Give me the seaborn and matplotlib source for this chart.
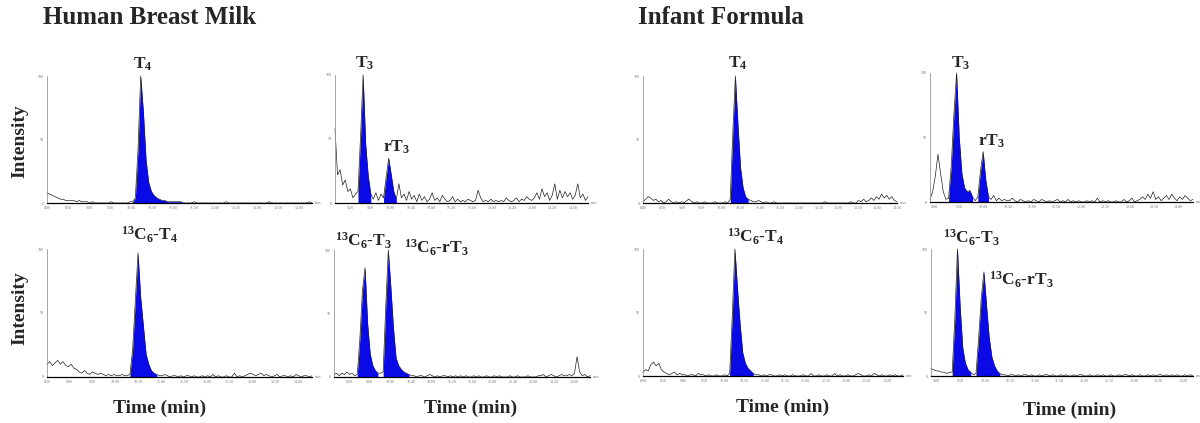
import numpy as np
import pandas as pd
import matplotlib
matplotlib.use('Agg')
import matplotlib.pyplot as plt
from matplotlib.ticker import MaxNLocator, FormatStrFormatter
import seaborn as sns

# 1. 크로마토그램 데이터 (상대강도 %, 균일 샘플링)
hbm_t4 = [8, 7, 6, 5, 4, 3, 3, 2, 2, 2,
          2, 1, 2, 1, 1, 1, 0, 1, 0, 0,
          0, 0, 0, 0, 1, 0, 0, 0, 0, 0,
          0, 1, 1, 4, 42, 100, 72, 34, 16, 9,
          6, 4, 3, 2, 2, 1, 1, 1, 1, 1,
          1, 0, 0, 0, 0, 1, 0, 0, 0, 0,
          0, 0, 0, 0, 0, 0, 0, 1, 0, 0,
          0, 0, 0, 0, 0, 0, 0, 0, 0, 0,
          0, 0, 0, 1, 0, 0, 0, 0, 0, 0,
          0, 0, 0, 0, 0, 0, 0, 0, 1, 0]
hbm_t3 = [58, 22, 26, 14, 18, 9, 11, 4, 7, 9,
          52, 100, 46, 21, 7, 3, 8, 2, 7, 4,
          20, 35, 22, 9, 3, 15, 4, 7, 2, 9,
          3, 6, 1, 7, 2, 5, 1, 3, 8, 2,
          4, 1, 6, 3, 1, 2, 5, 1, 3, 1,
          2, 1, 3, 2, 1, 2, 10, 4, 1, 2,
          1, 3, 1, 2, 1, 2, 1, 4, 2, 1,
          2, 4, 1, 3, 2, 5, 3, 2, 4, 8,
          3, 11, 5, 8, 2, 6, 15, 3, 10, 4,
          9, 5, 8, 3, 6, 15, 4, 7, 2, 5]
if_t4 = [1, 3, 5, 4, 2, 3, 1, 2, 0, 1,
         3, 1, 0, 1, 0, 1, 0, 2, 3, 1,
         0, 1, 0, 0, 1, 0, 0, 0, 1, 0,
         0, 0, 1, 0, 3, 55, 100, 62, 28, 12,
         5, 3, 2, 1, 1, 2, 1, 0, 1, 0,
         0, 1, 0, 0, 0, 0, 0, 0, 0, 0,
         0, 0, 0, 0, 0, 0, 0, 0, 0, 0,
         0, 1, 0, 0, 0, 0, 0, 0, 0, 0,
         0, 1, 0, 0, 2, 1, 3, 1, 2, 4,
         2, 5, 3, 7, 4, 6, 3, 5, 2, 1]
if_t3 = [2, 8, 20, 37, 22, 8, 2, 3, 28, 68,
         100, 50, 22, 11, 8, 9, 4, 1, 4, 24,
         39, 17, 4, 2, 5, 1, 3, 1, 2, 1,
         1, 3, 1, 0, 2, 1, 0, 1, 0, 2,
         1, 0, 2, 1, 0, 1, 0, 1, 2, 0,
         1, 0, 2, 0, 1, 0, 1, 0, 0, 1,
         0, 1, 0, 3, 0, 1, 0, 1, 0, 0,
         1, 0, 0, 2, 0, 1, 3, 0, 1, 2,
         4, 2, 6, 3, 8, 2, 4, 1, 3, 5,
         2, 6, 3, 1, 4, 2, 5, 3, 1, 2]
hbm_c13t4 = [10, 12, 9, 11, 13, 10, 12, 9, 8, 10,
             7, 6, 4, 3, 5, 3, 2, 4, 3, 2,
             3, 2, 1, 2, 1, 2, 1, 1, 2, 1,
             1, 2, 22, 60, 97, 62, 40, 18, 10, 5,
             3, 2, 1, 1, 2, 1, 0, 1, 1, 0,
             1, 0, 1, 1, 0, 1, 0, 0, 1, 0,
             1, 0, 2, 0, 1, 0, 0, 1, 0, 0,
             3, 0, 1, 0, 1, 2, 3, 2, 1, 2,
             3, 1, 2, 1, 0, 1, 2, 0, 1, 1,
             0, 1, 0, 2, 1, 0, 1, 1, 0, 1]
hbm_c13t3 = [2, 3, 1, 3, 2, 4, 2, 3, 1, 2,
             30, 68, 86, 42, 18, 9, 5, 3, 3, 4,
             55, 100, 70, 38, 15, 9, 6, 4, 3, 2,
             1, 1, 0, 1, 1, 0, 1, 2, 1, 0,
             1, 0, 1, 1, 0, 1, 0, 1, 0, 1,
             0, 1, 0, 0, 1, 0, 1, 0, 0, 1,
             0, 0, 1, 0, 1, 0, 0, 0, 1, 0,
             0, 1, 0, 0, 0, 1, 0, 0, 0, 1,
             1, 2, 0, 1, 2, 1, 0, 1, 2, 1,
             1, 2, 1, 3, 16, 4, 1, 2, 0, 1]
if_c13t4 = [3, 5, 4, 9, 11, 8, 10, 5, 3, 2,
            1, 2, 3, 1, 2, 1, 1, 0, 1, 1,
            0, 2, 1, 1, 0, 1, 0, 0, 1, 0,
            0, 1, 0, 2, 48, 100, 68, 40, 18, 10,
            6, 4, 2, 1, 1, 0, 1, 0, 1, 1,
            0, 0, 1, 0, 1, 0, 0, 1, 0, 0,
            0, 1, 0, 0, 2, 0, 0, 1, 0, 0,
            1, 0, 0, 2, 0, 1, 0, 0, 1, 0,
            0, 1, 2, 1, 0, 0, 1, 0, 2, 1,
            0, 1, 0, 0, 1, 0, 1, 0, 0, 1]
if_c13t3 = [6, 5, 4, 4, 3, 3, 2, 3, 3, 45,
            100, 55, 22, 10, 5, 3, 1, 2, 30, 62,
            82, 55, 30, 15, 8, 4, 2, 1, 1, 0,
            1, 1, 0, 1, 0, 1, 1, 0, 1, 0,
            0, 1, 0, 1, 1, 0, 1, 0, 0, 1,
            0, 1, 0, 0, 1, 0, 1, 1, 0, 0,
            1, 0, 0, 1, 0, 1, 0, 0, 1, 0,
            0, 1, 0, 1, 1, 0, 1, 0, 0, 1,
            0, 0, 1, 0, 1, 0, 1, 1, 0, 1,
            0, 1, 0, 1, 0, 0, 1, 0, 1, 0]

# 피크 적분 구간 (샘플 인덱스)
hbm_t4_peaks = [(32, 51)]
hbm_t3_peaks = [(9, 14), (19, 24)]
if_t4_peaks = [(34, 41)]
if_t3_peaks = [(7, 16), (18, 22)]
hbm_c13t4_peaks = [(31, 41)]
hbm_c13t3_peaks = [(9, 17), (19, 29)]
if_c13t4_peaks = [(33, 42)]
if_c13t3_peaks = [(8, 15), (17, 26)]

# 측정 시간 범위 (min)
hbm_t4_time = (8.00, 14.30)
hbm_t3_time = (8.90, 13.90)
if_t4_time = (8.00, 14.50)
if_t3_time = (8.90, 14.30)
hbm_c13t4_time = (8.50, 14.30)
hbm_c13t3_time = (8.90, 13.90)
if_c13t4_time = (8.00, 14.40)
if_c13t3_time = (8.90, 14.20)

# 피크 라벨
hbm_t4_labels = ['T$_4$']
hbm_t3_labels = ['T$_3$', 'rT$_3$']
if_t4_labels = ['T$_4$']
if_t3_labels = ['T$_3$', 'rT$_3$']
hbm_c13t4_labels = ['$^{13}$C$_6$-T$_4$']
hbm_c13t3_labels = ['$^{13}$C$_6$-T$_3$', '$^{13}$C$_6$-rT$_3$']
if_c13t4_labels = ['$^{13}$C$_6$-T$_4$']
if_c13t3_labels = ['$^{13}$C$_6$-T$_3$', '$^{13}$C$_6$-rT$_3$']

# 2. 스타일
sns.set_style('white')
plt.rcParams['font.family'] = ['Liberation Serif', 'DejaVu Serif']
plt.rcParams['mathtext.fontset'] = 'custom'
plt.rcParams['mathtext.rm'] = 'Liberation Serif:bold'
plt.rcParams['mathtext.it'] = 'Liberation Serif:bold'
plt.rcParams['mathtext.bf'] = 'Liberation Serif:bold'

W, H = 1200, 423
fig = plt.figure(figsize=(W / 100, H / 100), dpi=100)

# 패널: (값, 시간, 피크, 라벨, 픽셀 박스 x0,x1,ytop,ybase, 라벨 위치)
panels = [
    (hbm_t4, hbm_t4_time, hbm_t4_peaks, hbm_t4_labels, (47, 312, 76, 203), [(0.325, 1.055)]),
    (hbm_t3, hbm_t3_time, hbm_t3_peaks, hbm_t3_labels, (335, 588, 75, 203), [(0.079, 1.06), (0.19, 0.40)]),
    (if_t4, if_t4_time, if_t4_peaks, if_t4_labels, (643, 897, 76, 203), [(0.335, 1.063)]),
    (if_t3, if_t3_time, if_t3_peaks, if_t3_labels, (930, 1193, 73, 202), [(0.08, 1.04), (0.183, 0.434)]),
    (hbm_c13t4, hbm_c13t4_time, hbm_c13t4_peaks, hbm_c13t4_labels, (47, 312, 249, 377), [(0.279, 1.07)]),
    (hbm_c13t3, hbm_c13t3_time, hbm_c13t3_peaks, hbm_c13t3_labels, (334, 590, 250, 377), [(0.003, 1.03), (0.273, 0.976)]),
    (if_c13t4, if_c13t4_time, if_c13t4_peaks, if_c13t4_labels, (643, 903, 249, 376), [(0.323, 1.055)]),
    (if_c13t3, if_c13t3_time, if_c13t3_peaks, if_c13t3_labels, (931, 1193, 249, 376), [(0.046, 1.047), (0.221, 0.717)]),
]

for vals, (t0, t1), peaks, labels, (x0, x1, yt, yb), lpos in panels:
    ax = fig.add_axes([x0 / W, 1 - yb / H, (x1 - x0) / W, (yb - yt) / H])
    df = pd.DataFrame({'time': np.linspace(t0, t1, len(vals)), 'intensity': vals})
    for i0, i1 in peaks:
        seg = df.iloc[i0:i1 + 1]
        ax.fill_between(seg['time'], seg['intensity'], 0, color='#0a0ae6', lw=0)
    sns.lineplot(data=df, x='time', y='intensity', ax=ax, color='#222222', lw=0.5, clip_on=False)
    ax.set_xlim(t0, t1)
    ax.set_ylim(0, 100)
    ax.set_xlabel('')
    ax.set_ylabel('')
    ax.set_yticks([0, 50, 100])
    ax.xaxis.set_major_locator(MaxNLocator(nbins=13))
    ax.xaxis.set_major_formatter(FormatStrFormatter('%.2f'))
    ax.tick_params(axis='both', labelsize=3, length=1.5, width=0.4, pad=1, colors='#777777')
    sns.despine(ax=ax)
    ax.spines['left'].set_color('#999999')
    ax.spines['left'].set_linewidth(0.6)
    ax.spines['bottom'].set_color('black')
    ax.spines['bottom'].set_linewidth(0.9)
    ax.text(1.01, 0, 'min', transform=ax.transAxes, fontsize=3, color='#777777', va='center')
    for lab, (lx, ly) in zip(labels, lpos):
        ax.text(lx, ly, lab, transform=ax.transAxes, fontsize=12.5, fontweight='bold',
                ha='left', va='baseline')

# 3. 제목 및 축 라벨
fig.text(43 / W, 1 - 17 / H, 'Human Breast Milk', fontsize=18, fontweight='bold', va='center')
fig.text(638 / W, 1 - 17 / H, 'Infant Formula', fontsize=18, fontweight='bold', va='center')
for yc in [141, 308]:
    fig.text(20 / W, 1 - yc / H, 'Intensity', fontsize=14, fontweight='bold', rotation=90,
             ha='center', va='center')
for xc, yc in [(160, 408), (471, 408), (783, 407), (1070, 410)]:
    fig.text(xc / W, 1 - yc / H, 'Time (min)', fontsize=14, fontweight='bold', ha='center', va='center')

plt.savefig('out.png', dpi=100)
